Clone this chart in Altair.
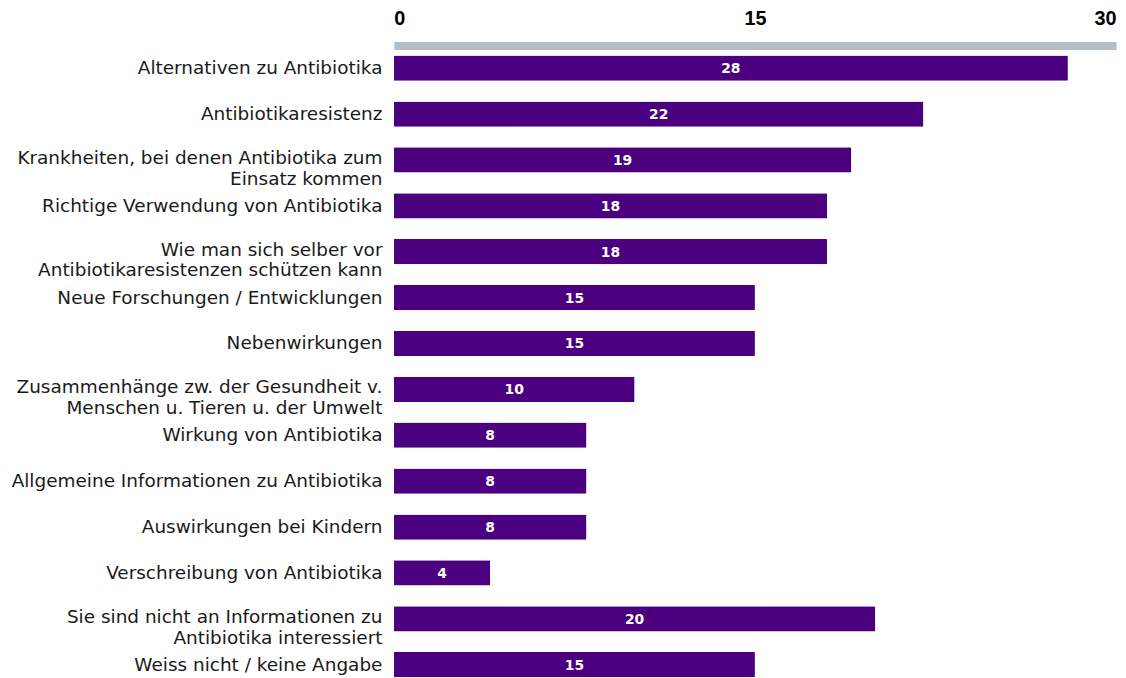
import altair as alt
import pandas as pd

categories = [
    "Alternativen zu Antibiotika",
    "Antibiotikaresistenz",
    "Krankheiten, bei denen Antibiotika zum|Einsatz kommen",
    "Richtige Verwendung von Antibiotika",
    "Wie man sich selber vor|Antibiotikaresistenzen schützen kann",
    "Neue Forschungen / Entwicklungen",
    "Nebenwirkungen",
    "Zusammenhänge zw. der Gesundheit v.|Menschen u. Tieren u. der Umwelt",
    "Wirkung von Antibiotika",
    "Allgemeine Informationen zu Antibiotika",
    "Auswirkungen bei Kindern",
    "Verschreibung von Antibiotika",
    "Sie sind nicht an Informationen zu|Antibiotika interessiert",
    "Weiss nicht / keine Angabe",
]
values = [28, 22, 19, 18, 18, 15, 15, 10, 8, 8, 8, 4, 20, 15]
tick_values = [0, 15, 30]

df = pd.DataFrame({"cat": categories, "val": values})

PURPLE = "#4B007F"

y_enc = alt.Y(
    "cat:N",
    sort=categories,
    title=None,
    scale=alt.Scale(paddingInner=0.45, paddingOuter=0.11, align=1),
    axis=alt.Axis(
        ticks=False,
        domain=False,
        labelPadding=12,
        labelLimit=420,
        labelFont="DejaVu Sans",
        labelFontSize=18.6,
        labelColor="#1a1a1a",
        labelLineHeight=21,
        labelExpr="split(datum.label, '|')",
        labelOffset={"condition": {"test": "indexof(datum.value, '|') >= 0", "value": -2}, "value": 0},
    ),
)

x_enc = alt.X(
    "val:Q",
    title=None,
    scale=alt.Scale(domain=[0, 30], nice=False),
    axis=alt.Axis(
        orient="top",
        values=tick_values,
        ticks=False,
        tickSize=0,
        grid=False,
        domainColor="#B4BEC6",
        domainWidth=8,
        labelFont="Liberation Sans Narrow, Arial Narrow, Liberation Sans, Arial, sans-serif",
        labelFontWeight="bold",
        labelFontSize=20,
        labelColor="#000000",
        labelPadding=17,
        labelFlush=True,
    ),
)

bars = alt.Chart(df).mark_bar(color=PURPLE, cornerRadius=1).encode(x=x_enc, y=y_enc)

text = (
    alt.Chart(df)
    .transform_calculate(mid="datum.val / 2")
    .mark_text(color="white", font="DejaVu Sans", fontWeight="bold", fontSize=14, baseline="middle", dy=1)
    .encode(x="mid:Q", y=alt.Y("cat:N", sort=categories), text="val:Q")
)

chart = (
    alt.layer(bars, text)
    .properties(
        width=728,
        height=637,
        background="white",
        autosize=alt.AutoSizeParams(type="none"),
        padding={"left": 389, "top": 35, "right": 2, "bottom": 0},
    )
    .configure_view(strokeWidth=0, stroke="transparent")
)

chart.save("out.html", embed_options={"renderer": "svg", "actions": False})
